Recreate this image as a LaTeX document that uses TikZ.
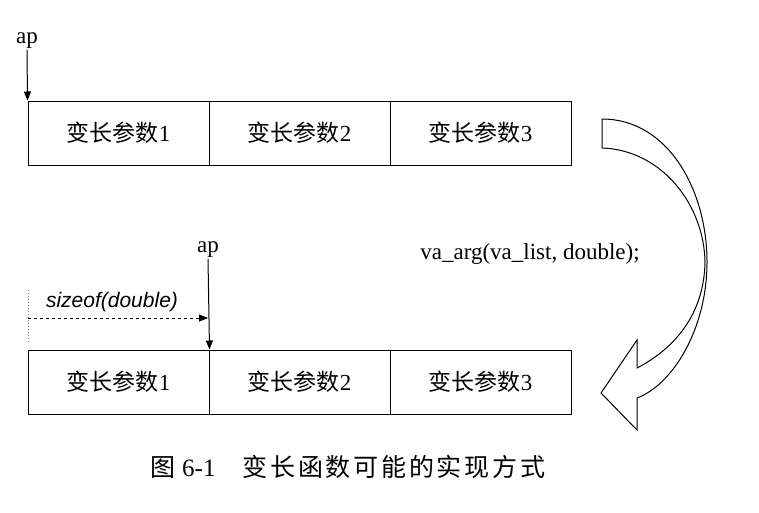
\documentclass[tikz,border=0pt]{standalone}
\usepackage{fontspec}
\setmainfont{Liberation Serif}
\setsansfont{Liberation Sans}
\newfontfamily\cjk{Noto Sans CJK SC}
\newfontfamily\cjkwide[LetterSpace=11]{Noto Sans CJK SC}
\usetikzlibrary{positioning,arrows.meta}

\begin{document}
\begin{tikzpicture}[
        x=1pt, y=-1pt,
        node distance = 181pt,
        font=\fontsize{23}{27}\selectfont,
        cell/.style={draw=black, line width=1pt, minimum width=181pt,
                     minimum height=64pt, inner sep=0pt},
        tip/.style={-{Triangle[length=9pt,width=7pt]}, line width=1pt}]
    \useasboundingbox (0,0) rectangle (759,512);

        % NODES
        % top row
        \node[cell] (topA) at (118.5,133) {{\cjk 变长参数}1};
        \node[cell, right of = topA] (topB) {{\cjk 变长参数}2};
        \node[cell, right of = topB] (topC) {{\cjk 变长参数}3};
        \node[inner sep=1pt] (top_ap) at (27,41) {ap};

        % bottom row
        \node[cell] (botA) at (118.5,382) {{\cjk 变长参数}1};
        \node[cell, right of = botA] (botB) {{\cjk 变长参数}2};
        \node[cell, right of = botB] (botC) {{\cjk 变长参数}3};
        \node[inner sep=1pt] (bot_ap) at (208,250) {ap};
        \coordinate (bot_mark) at (208,318);
        \coordinate (dot_top) at (28,290);
        \coordinate (dot_bot) at (28,344);
        \coordinate (dash_start) at (28,318);
        \node[font=\fontsize{21}{25}\sffamily\itshape] (size_cap) at (112,302) {sizeof(double)};

        % labels
        \node (va_cap) at (530,254) {va\_arg(va\_list, double);};
        \node[font=\fontsize{25}{29}\selectfont] (fig_cap) at (348,467)
            {{\cjk 图} 6-1\hspace{27pt}{\cjkwide 变长函数可能的实现方式}};

        % ARROWS
        \draw[tip] (top_ap.south) -- (topA.north west);
        \draw[tip] (bot_ap.south) -- (botA.north east);
        \draw[gray, dotted, line width=1pt] (dot_top) -- (dot_bot);
        \draw[tip, dashed, line width=0.8pt] (dash_start) -- (bot_mark);

        % big curved arrow
        \draw[line width=1pt, fill=white]
            (602,119) .. controls (668,119) and (707,190) .. (707,262)
            .. controls (707,330) and (672,385) .. (637,398)
            -- (637,430) -- (601,393) -- (637,340) -- (637,368)
            .. controls (668,352) and (704,320) .. (705,262)
            .. controls (704,205) and (662,150) .. (602,148) -- cycle;
\end{tikzpicture}
\end{document}
